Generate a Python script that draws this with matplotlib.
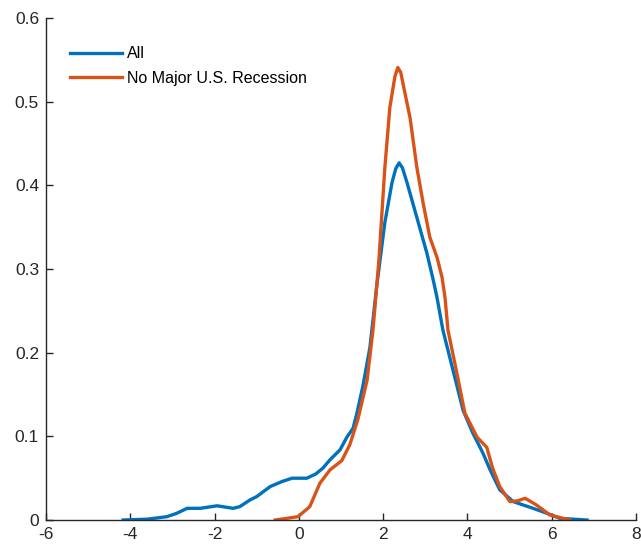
import numpy as np
import matplotlib
matplotlib.use("Agg")
import matplotlib.pyplot as plt

plt.rcParams['font.family'] = ['Liberation Sans', 'DejaVu Sans']

# density curves
all_x = [-4.17, -3.6, -3.13, -2.9, -2.65, -2.34, -1.94, -1.56, -1.40, -1.16, -1.0,
         -0.68, -0.4, -0.16, 0.19, 0.4, 0.57, 0.74, 0.98, 1.14, 1.29, 1.38, 1.52,
         1.69, 1.85, 2.04, 2.21, 2.30, 2.38, 2.46, 2.57, 2.80, 3.04, 3.19, 3.28,
         3.42, 3.66, 3.90, 4.13, 4.37, 4.54, 4.77, 5.09, 5.56, 5.89, 6.2, 6.84]
all_y = [0.0, 0.001, 0.004, 0.008, 0.014, 0.014, 0.017, 0.014, 0.016, 0.024, 0.028,
         0.040, 0.046, 0.050, 0.050, 0.055, 0.062, 0.072, 0.084, 0.099, 0.110, 0.128, 0.160,
         0.207, 0.280, 0.355, 0.403, 0.420, 0.427, 0.421, 0.403, 0.362, 0.319, 0.287, 0.266,
         0.227, 0.179, 0.131, 0.104, 0.080, 0.060, 0.036, 0.022, 0.014, 0.008, 0.002, 0.0]

norec_x = [-0.56, -0.02, 0.26, 0.50, 0.74, 1.02, 1.21, 1.40, 1.62, 1.76, 1.90, 2.04,
           2.16, 2.28, 2.35, 2.42, 2.50, 2.64, 2.80, 2.95, 3.11, 3.28, 3.40, 3.47, 3.54,
           3.75, 3.94, 4.23, 4.46, 4.60, 4.77, 5.01, 5.20, 5.37, 5.64, 5.96, 6.43]
norec_y = [0.0, 0.004, 0.016, 0.044, 0.060, 0.071, 0.090, 0.120, 0.167, 0.227, 0.310, 0.420,
           0.493, 0.530, 0.541, 0.535, 0.515, 0.481, 0.422, 0.379, 0.338, 0.314, 0.290, 0.266, 0.227,
           0.176, 0.128, 0.099, 0.087, 0.062, 0.040, 0.022, 0.023, 0.026, 0.018, 0.006, 0.0]

x_ticks = [-6, -4, -2, 0, 2, 4, 6, 8]
y_ticks = [0, 0.1, 0.2, 0.3, 0.4, 0.5, 0.6]

fig = plt.figure(figsize=(6.41, 5.5), dpi=100)
ax = fig.add_axes([0.0718, 0.0545, 0.9202, 0.9125])

ax.plot(all_x, all_y, color='#0072BD', lw=2.4, label='All')
ax.plot(norec_x, norec_y, color='#D95319', lw=2.4, label='No Major U.S. Recession')

ax.set_xlim(-6, 8)
ax.set_ylim(0, 0.6)
ax.set_xticks(x_ticks)
ax.set_yticks(y_ticks)
ax.set_xticklabels([str(t) for t in x_ticks])
ax.set_yticklabels(['0', '0.1', '0.2', '0.3', '0.4', '0.5', '0.6'])

for s in ['top', 'right']:
    ax.spines[s].set_visible(False)
for s in ['left', 'bottom']:
    ax.spines[s].set_color('#262626')
    ax.spines[s].set_linewidth(1.0)
ax.tick_params(direction='in', length=5, width=1, colors='#262626', labelsize=12.5, pad=5)

ax.legend(loc='upper left', bbox_to_anchor=(0.04, 0.944), frameon=False, fontsize=11.5,
          handlelength=3.3, handletextpad=0.3, labelspacing=0.58, borderaxespad=0, borderpad=0)

fig.savefig('out.png', dpi=100)
